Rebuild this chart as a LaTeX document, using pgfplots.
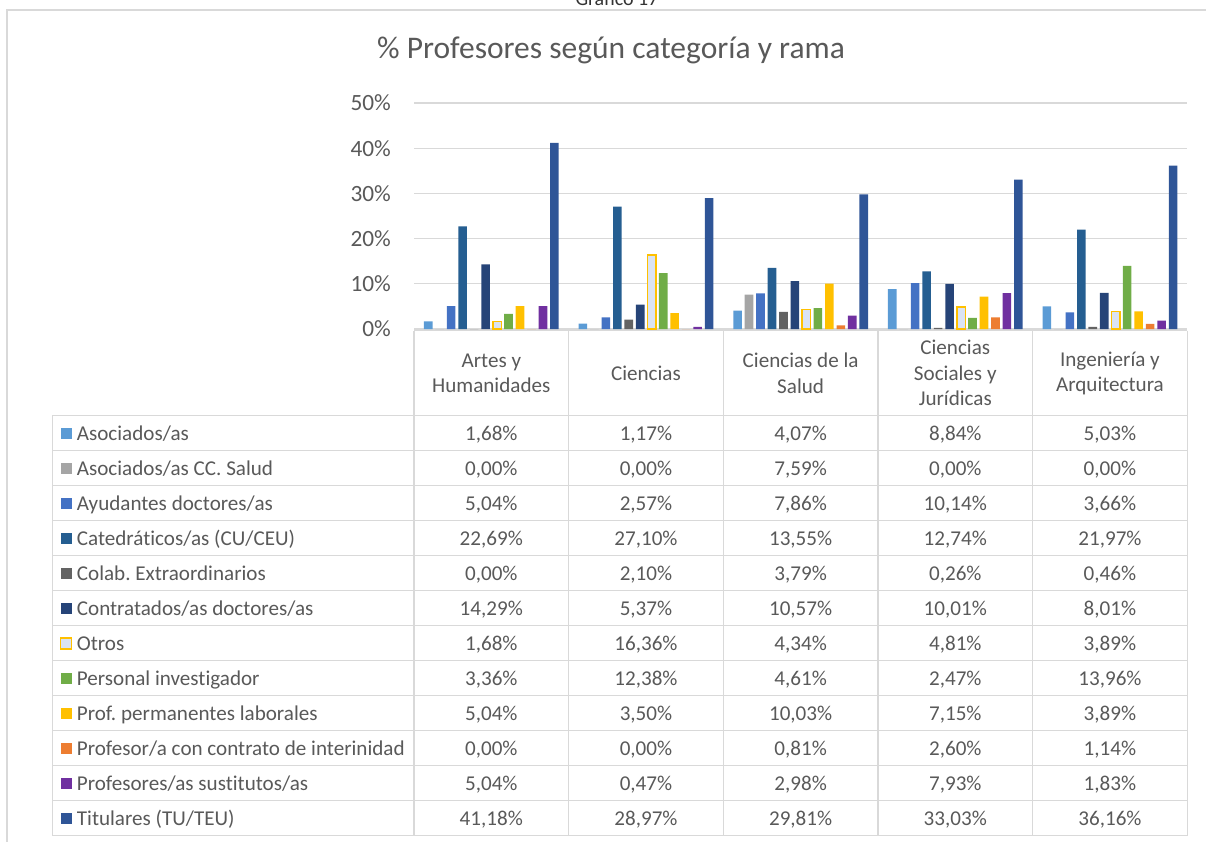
\documentclass[border=0pt]{standalone}
\usepackage{pgfplots}
\pgfplotsset{compat=1.18}
\usepackage{fontspec}
\setmainfont{Carlito}[Ligatures=NoCommon]
\frenchspacing
\definecolor{txt}{HTML}{595959}
\definecolor{grd}{HTML}{D9D9D9}
\definecolor{c1}{HTML}{5B9BD5}
\definecolor{c2}{HTML}{A5A5A5}
\definecolor{c3}{HTML}{4472C4}
\definecolor{c4}{HTML}{255E91}
\definecolor{c5}{HTML}{636363}
\definecolor{c6}{HTML}{264478}
\definecolor{c7f}{HTML}{DAE3F3}
\definecolor{c7b}{HTML}{FFC000}
\definecolor{c8}{HTML}{70AD47}
\definecolor{c9}{HTML}{FFC000}
\definecolor{c10}{HTML}{ED7D31}
\definecolor{c11}{HTML}{7030A0}
\definecolor{c12}{HTML}{2F5597}
\newcommand{\tfont}{\fontsize{21.1}{25.5}\selectfont}
\newcommand{\trow}[8]{%
  \pgfmathsetmacro{\yc}{433.2+35*#1}%
  \path[#3] (60.5,{\yc-5.5}) rectangle (71.5,{\yc+5.5});%
  \node[anchor=base west, inner sep=0pt, font=\tfont, text=txt] at (76.7,{\yc+7}) {#2};%
  \node[anchor=base, inner sep=0pt, font=\tfont, text=txt] at (491.3,{\yc+7}) {#4\%};%
  \node[anchor=base, inner sep=0pt, font=\tfont, text=txt] at (645.96,{\yc+7}) {#5\%};%
  \node[anchor=base, inner sep=0pt, font=\tfont, text=txt] at (800.62,{\yc+7}) {#6\%};%
  \node[anchor=base, inner sep=0pt, font=\tfont, text=txt] at (955.28,{\yc+7}) {#7\%};%
  \node[anchor=base, inner sep=0pt, font=\tfont, text=txt] at (1109.94,{\yc+7}) {#8\%};%
}
\begin{document}
\begin{tikzpicture}
\begin{axis}[
  at={(414pt,-329pt)}, anchor=south west,
  width=773.3pt, height=226pt, scale only axis,
  xmin=-0.5, xmax=4.5, ymin=0, ymax=50,
  ybar=2.87pt, bar width=8.6pt,
  xtick=\empty,
  ytick={0,10,20,30,40,50},
  yticklabels={0\%,10\%,20\%,30\%,40\%,50\%},
  ymajorgrids, grid style={grd, line width=1.3pt},
  axis line style={draw=none}, major tick length=0pt,
  yticklabel style={font=\fontsize{23.3}{28}\selectfont, text=txt, inner sep=0pt},
  yticklabel shift=23pt,
]
\addplot[fill=c1, draw=none] coordinates {(0,1.68) (1,1.17) (2,4.07) (3,8.84) (4,5.03)};
\addplot[fill=c2, draw=none] coordinates {(0,0) (1,0) (2,7.59) (3,0) (4,0)};
\addplot[fill=c3, draw=none] coordinates {(0,5.04) (1,2.57) (2,7.86) (3,10.14) (4,3.66)};
\addplot[fill=c4, draw=none] coordinates {(0,22.69) (1,27.10) (2,13.55) (3,12.74) (4,21.97)};
\addplot[fill=c5, draw=none] coordinates {(0,0) (1,2.10) (2,3.79) (3,0.26) (4,0.46)};
\addplot[fill=c6, draw=none] coordinates {(0,14.29) (1,5.37) (2,10.57) (3,10.01) (4,8.01)};
\addplot[fill=c7f, draw=c7b, line width=1.6pt] coordinates {(0,1.68) (1,16.36) (2,4.34) (3,4.81) (4,3.89)};
\addplot[fill=c8, draw=none] coordinates {(0,3.36) (1,12.38) (2,4.61) (3,2.47) (4,13.96)};
\addplot[fill=c9, draw=none] coordinates {(0,5.04) (1,3.50) (2,10.03) (3,7.15) (4,3.89)};
\addplot[fill=c10, draw=none] coordinates {(0,0) (1,0) (2,0.81) (3,2.60) (4,1.14)};
\addplot[fill=c11, draw=none] coordinates {(0,5.04) (1,0.47) (2,2.98) (3,7.93) (4,1.83)};
\addplot[fill=c12, draw=none] coordinates {(0,41.18) (1,28.97) (2,29.81) (3,33.03) (4,36.16)};
\end{axis}
\begin{scope}[x=1pt,y=-1pt]
\draw[grd, line width=1.3pt] (7,10) rectangle (1230,860);
\node[anchor=base, font=\fontsize{20}{24}\selectfont, text=black!80] at (617,5) {Gráfico 17};
\node[font=\fontsize{31.5}{38}\selectfont, text=txt] at (611,50) {\% Profesores según categoría y rama};
% table grid
\draw[grd, line width=1.5pt] (414,330.7) -- (1187.3,330.7);
\foreach \k in {0,...,12} {\draw[grd, line width=1.5pt] (52.3,{415.7+35*\k}) -- (1187.3,{415.7+35*\k});}
\foreach \xx in {414,568.66,723.32,877.98,1032.64,1187.3} {\draw[grd, line width=1.5pt] (\xx,330.7) -- (\xx,835.7);}
\draw[grd, line width=1.5pt] (52.3,415.7) -- (52.3,835.7);
% header
\node[align=center, font=\tfont, text=txt, inner sep=0pt] at (491.3,373.2) {Artes y\\Humanidades};
\node[align=center, font=\tfont, text=txt, inner sep=0pt] at (645.96,373.2) {Ciencias};
\node[align=center, font=\tfont, text=txt, inner sep=0pt] at (800.62,373.2) {Ciencias de la\\Salud};
\node[align=center, font=\tfont, text=txt, inner sep=0pt] at (955.28,373.2) {Ciencias\\Sociales y\\Jurídicas};
\node[align=center, font=\tfont, text=txt, inner sep=0pt] at (1109.94,373.2) {Ingeniería y\\Arquitectura};
% rows
\trow{0}{Asociados/as}{fill=c1}{1,68}{1,17}{4,07}{8,84}{5,03}
\trow{1}{Asociados/as CC. Salud}{fill=c2}{0,00}{0,00}{7,59}{0,00}{0,00}
\trow{2}{Ayudantes doctores/as}{fill=c3}{5,04}{2,57}{7,86}{10,14}{3,66}
\trow{3}{Catedráticos/as (CU/CEU)}{fill=c4}{22,69}{27,10}{13,55}{12,74}{21,97}
\trow{4}{Colab. Extraordinarios}{fill=c5}{0,00}{2,10}{3,79}{0,26}{0,46}
\trow{5}{Contratados/as doctores/as}{fill=c6}{14,29}{5,37}{10,57}{10,01}{8,01}
\trow{6}{Otros}{fill=c7f, draw=c7b, line width=1.6pt}{1,68}{16,36}{4,34}{4,81}{3,89}
\trow{7}{Personal investigador}{fill=c8}{3,36}{12,38}{4,61}{2,47}{13,96}
\trow{8}{Prof. permanentes laborales}{fill=c9}{5,04}{3,50}{10,03}{7,15}{3,89}
\trow{9}{Profesor/a con contrato de interinidad}{fill=c10}{0,00}{0,00}{0,81}{2,60}{1,14}
\trow{10}{Profesores/as sustitutos/as}{fill=c11}{5,04}{0,47}{2,98}{7,93}{1,83}
\trow{11}{Titulares (TU/TEU)}{fill=c12}{41,18}{28,97}{29,81}{33,03}{36,16}
\pgfresetboundingbox
\path[use as bounding box] (0,0) rectangle (1206,841);
\end{scope}
\end{tikzpicture}
\end{document}
